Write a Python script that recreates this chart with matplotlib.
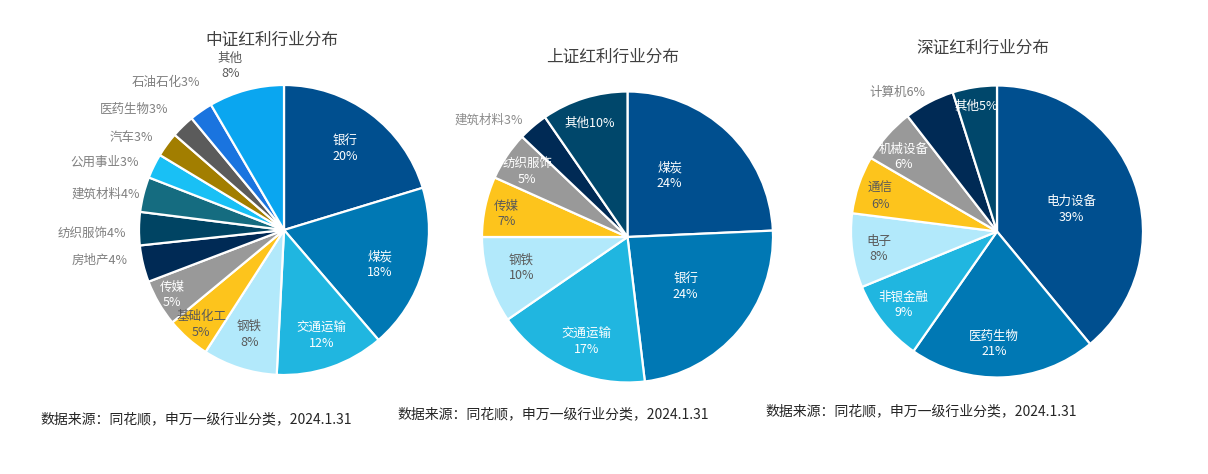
import matplotlib
matplotlib.use('Agg')
import matplotlib.pyplot as plt

plt.rcParams['font.family'] = ['Noto Sans CJK SC', 'DejaVu Sans']

# %%
# data: industry weights (%) of the three dividend indices, read off the wedges
zz_labels = ['银行', '煤炭', '交通运输', '钢铁', '基础化工', '传媒', '房地产', '纺织服饰',
             '建筑材料', '公用事业', '汽车', '医药生物', '石油石化', '其他']
zz_values = [20.3, 18.4, 12.1, 8.3, 4.9, 5.2, 4.1, 3.7, 3.9, 2.75, 2.75, 2.6, 2.6, 8.4]

sz_labels = ['煤炭', '银行', '交通运输', '钢铁', '传媒', '纺织服饰', '建筑材料', '其他']
sz_values = [24.3, 23.8, 17.3, 9.6, 6.7, 5.4, 3.3, 9.6]

szn_labels = ['电力设备', '医药生物', '非银金融', '电子', '通信', '机械设备', '计算机', '其他']
szn_values = [39.0, 20.7, 9.1, 8.2, 6.4, 6.1, 5.6, 4.9]

titles = ['中证红利行业分布', '上证红利行业分布', '深证红利行业分布']
source = '数据来源：同花顺，申万一级行业分类，2024.1.31'

# %%
# colours
DB, MB, CB, LB, YL, GR, NV, TL = ('#004F8F', '#0078B4', '#20B6E0', '#B2E9FB',
                                  '#FDC41C', '#999999', '#002A55', '#00476B')
zz_colors = [DB, MB, CB, LB, YL, GR, NV, '#004463', '#156C80', '#19C0F5',
             '#A27E00', '#5B5B5B', '#1A74DF', '#0AA6F0']
sz_colors = [DB, MB, CB, LB, YL, GR, NV, TL]
szn_colors = [DB, MB, CB, LB, YL, GR, NV, TL]

WHITE, DARK, GREY = 'white', '#595959', '#808080'

# label layout: (x, y in radius units, mode, colour)
# 'in' = name and pct on two lines, 'out' = one line right aligned, 'one' = one line centred
zz_layout = [(0.42, 0.56, 'in', WHITE), (0.66, -0.24, 'in', WHITE), (0.26, -0.73, 'in', WHITE),
             (-0.24, -0.72, 'in', DARK), (-0.57, -0.65, 'in', DARK), (-0.77, -0.45, 'in', WHITE),
             (-1.08, -0.21, 'out', GREY), (-1.09, -0.02, 'out', GREY), (-0.99, 0.25, 'out', GREY),
             (-1.00, 0.47, 'out', GREY), (-0.90, 0.64, 'out', GREY), (-0.80, 0.83, 'out', GREY),
             (-0.58, 1.02, 'out', GREY), (-0.37, 1.13, 'in', DARK)]
sz_layout = [(0.29, 0.42, 'in', WHITE), (0.40, -0.34, 'in', WHITE), (-0.28, -0.72, 'in', WHITE),
             (-0.73, -0.21, 'in', DARK), (-0.83, 0.16, 'in', DARK), (-0.69, 0.45, 'in', WHITE),
             (-0.72, 0.80, 'out', '#8C8C8C'), (-0.26, 0.78, 'one', WHITE)]
szn_layout = [(0.51, 0.15, 'in', WHITE), (-0.02, -0.77, 'in', WHITE), (-0.64, -0.50, 'in', WHITE),
              (-0.81, -0.12, 'in', DARK), (-0.80, 0.24, 'in', DARK), (-0.64, 0.51, 'in', WHITE),
              (-0.49, 0.95, 'out', GREY), (-0.14, 0.86, 'one', WHITE)]

# pie centre/radius, title centre, footnote start (pixels)
pies = [
    (zz_labels, zz_values, zz_colors, zz_layout, (284, 230, 145), (272, 40), (40, 419)),
    (sz_labels, sz_values, sz_colors, sz_layout, (627.5, 237, 145.5), (613, 57), (397, 414)),
    (szn_labels, szn_values, szn_colors, szn_layout, (997, 231.5, 146), (983, 48), (765, 411)),
]

# %%
W, H = 1208, 474
fig = plt.figure(figsize=(W / 100, H / 100), dpi=100)

for title, (labels, values, colors, layout, (cx, cy, r), (tx, ty), (fx, fy)) in zip(titles, pies):
    ax = fig.add_axes([(cx - r) / W, (H - cy - r) / H, 2 * r / W, 2 * r / H])
    ax.pie(values, colors=colors, startangle=90, counterclock=False, radius=1,
           wedgeprops=dict(edgecolor='white', linewidth=1.6))
    ax.set_xlim(-1, 1)
    ax.set_ylim(-1, 1)
    ax.set_aspect('equal')
    ax.axis('off')
    for lab, val, (x, y, mode, col) in zip(labels, values, layout):
        if mode == 'in':
            ax.text(x, y, f'{lab}\n{val:.0f}%', ha='center', va='center', fontsize=9,
                    color=col, linespacing=1.25)
        elif mode == 'out':
            ax.text(x, y, f'{lab}{val:.0f}%', ha='right', va='center', fontsize=9, color=col)
        else:
            ax.text(x, y, f'{lab}{val:.0f}%', ha='center', va='center', fontsize=9, color=col)
    fig.text(tx / W, 1 - ty / H, title, ha='center', va='center', fontsize=12,
             color='#404040', fontweight='medium')
    fig.text(fx / W, 1 - fy / H, source, ha='left', va='center', fontsize=10, color='#262626')

fig.savefig('out.png', dpi=100, facecolor='white')
